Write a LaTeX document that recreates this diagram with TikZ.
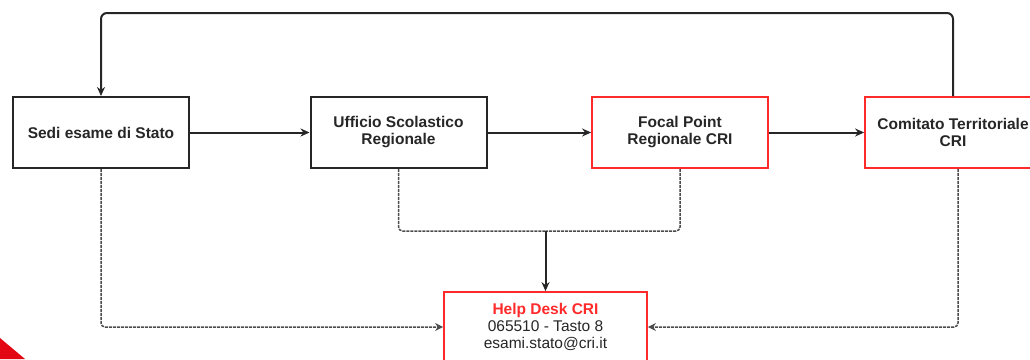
\documentclass[tikz,border=0pt]{standalone}
\usepackage{fontspec}
\setmainfont{Liberation Sans}
\usetikzlibrary{arrows.meta}

\definecolor{crired}{HTML}{FF2A2A}
\definecolor{logored}{HTML}{E30613}

\tikzset{
	box/.style={shape=rectangle,
				draw=black!85,
				line width=2pt,
				minimum width=176pt,
				minimum height=71pt,
				inner sep=2pt,
				align=center,
				text=black!85,
				font=\bfseries\fontsize{15.5}{17}\selectfont},
	redbox/.style={box, draw=crired, line width=1.8pt},
	link/.style={draw=black!85, line width=2pt,
				 -{Stealth[length=9pt, width=8pt]}},
	dots/.style={draw=black!70, line width=1.5pt,
				 dash pattern=on 3pt off 1pt,
				 rounded corners=4pt,
				 -{Stealth[length=8pt, width=8pt]}}
}

\begin{document}
\begin{tikzpicture}[x=1pt, y=-1pt]
	\useasboundingbox (0,0) rectangle (1030,359);

	\draw (101,132.5) node[box](sedi){Sedi esame di Stato};
	\draw (398.5,132.5) node[box](usr){Ufficio Scolastico\\Regionale};
	\draw (680,132.5) node[redbox](focal){Focal Point\\Regionale CRI};
	\draw (953,132.5) node[redbox](comitato){Comitato Territoriale\\CRI};
	\draw (545.5,327) node[redbox,
						   minimum width=203pt,
						   minimum height=70pt,
						   font=\fontsize{15.5}{17}\selectfont](help){%
		\textcolor{crired}{\bfseries Help Desk CRI}\\065510 - Tasto 8\\esami.stato@cri.it};

	\coordinate (top) at (0,13);
	\coordinate (merge) at (545.5,231);

	\draw [link](sedi) -- (usr);
	\draw [link](usr) -- (focal);
	\draw [link](focal) -- (comitato);
	\draw [link, rounded corners=6pt](comitato.north) -- (comitato.north |- top) -| (sedi.north);

	\draw [dots](sedi.south) |- (help.west);
	\draw [dots]([xshift=5pt]comitato.south) |- (help.east);
	\draw [dots, -](usr.south) |- (merge);
	\draw [dots, -](focal.south) |- (merge);
	\draw [link](merge) -- (help.north);

	\fill [logored] (0,338) -- (25,359) -- (0,359) -- cycle;
\end{tikzpicture}
\end{document}
